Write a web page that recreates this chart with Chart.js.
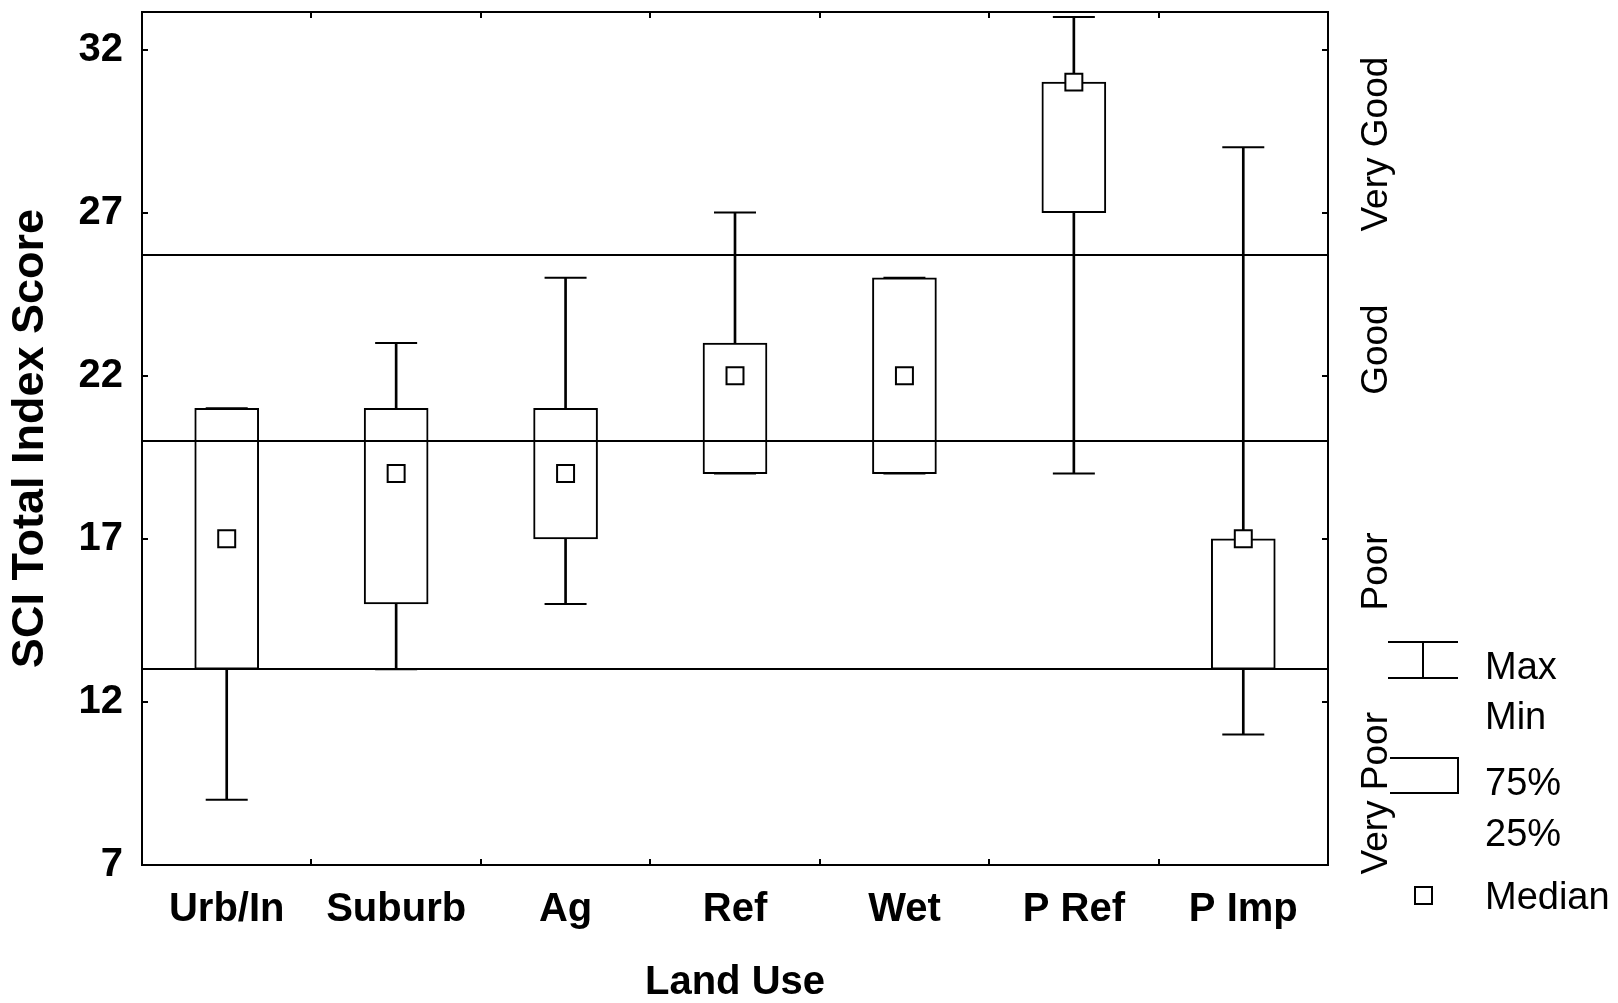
<!DOCTYPE html>
<html>
<head>
<meta charset="utf-8">
<script src="https://cdn.jsdelivr.net/npm/chart.js@4.4.1/dist/chart.umd.min.js"></script>
<style>
  html, body { margin: 0; padding: 0; background: #fff; }
</style>
</head>
<body>
<canvas id="sciChart" width="1618" height="1003"></canvas>
<script>
// land use groups along the x axis
const landUses = ["Urb/In", "Suburb", "Ag", "Ref", "Wet", "P Ref", "P Imp"];

// box plot stats per group
const maxVals    = [21, 23, 25, 27, 25, 33, 29];
const q75Vals    = [21, 21, 21, 23, 25, 31, 17];
const medianVals = [17, 19, 19, 22, 22, 31, 17];
const q25Vals    = [13, 15, 17, 19, 19, 27, 13];
const minVals    = [9, 13, 15, 19, 19, 19, 11];

// y axis
const yTicks = [7, 12, 17, 22, 27, 32];
const yMin = 7;
const yMax = 33.15;

// condition class breaks + names shown on the right
const classBreaks = [25.7, 20, 13];
const classNames = ["Very Good", "Good", "Poor", "Very Poor"];
const classCenters = [29.1, 22.8, 16.0, 9.2];

// legend text
const legendLabels = ["Max", "Min", "75%", "25%", "Median"];

const fontFam = '"Liberation Sans", Arial, Helvetica, sans-serif';

const boxRanges = landUses.map((_, i) => [q25Vals[i], q75Vals[i]]);
const whiskerRanges = landUses.map((_, i) => [minVals[i], maxVals[i]]);

// frame, inside ticks, class lines, right labels and legend
const decorations = {
    id: "decorations",
    afterDatasetsDraw(chart) {
        const { ctx, chartArea: a } = chart;
        const xs = chart.scales.x;
        const ys = chart.scales.y;
        ctx.save();
        ctx.strokeStyle = "#000";
        ctx.lineWidth = 2;

        // class break lines
        classBreaks.forEach(v => {
            const y = Math.round(ys.getPixelForValue(v));
            ctx.beginPath();
            ctx.moveTo(a.left, y);
            ctx.lineTo(a.right, y);
            ctx.stroke();
        });

        // frame
        ctx.strokeRect(a.left, a.top, a.right - a.left, a.bottom - a.top);

        // y ticks, pointing inward on both sides
        yTicks.forEach(v => {
            const y = Math.round(ys.getPixelForValue(v));
            ctx.beginPath();
            ctx.moveTo(a.left, y);
            ctx.lineTo(a.left + 6, y);
            ctx.moveTo(a.right, y);
            ctx.lineTo(a.right - 6, y);
            ctx.stroke();
        });

        // x ticks between categories
        for (let i = 1; i < landUses.length; i++) {
            const x = Math.round((xs.getPixelForValue(i - 1) + xs.getPixelForValue(i)) / 2);
            ctx.beginPath();
            ctx.moveTo(x, a.bottom);
            ctx.lineTo(x, a.bottom - 6);
            ctx.moveTo(x, a.top);
            ctx.lineTo(x, a.top + 6);
            ctx.stroke();
        }
        ctx.restore();
    },
    afterDraw(chart) {
        const { ctx, chartArea: a } = chart;
        const ys = chart.scales.y;
        ctx.save();
        ctx.fillStyle = "#000";
        ctx.strokeStyle = "#000";
        ctx.lineWidth = 2;

        // class names, rotated
        ctx.font = "37px " + fontFam;
        ctx.textAlign = "center";
        ctx.textBaseline = "alphabetic";
        classNames.forEach((name, i) => {
            ctx.save();
            ctx.translate(a.right + 59, ys.getPixelForValue(classCenters[i]));
            ctx.rotate(-Math.PI / 2);
            ctx.fillText(name, 0, 0);
            ctx.restore();
        });

        // legend symbols
        const sx = a.right + 60;
        ctx.beginPath();
        ctx.moveTo(sx, 642); ctx.lineTo(sx + 70, 642);
        ctx.moveTo(sx, 678); ctx.lineTo(sx + 70, 678);
        ctx.moveTo(sx + 35, 642); ctx.lineTo(sx + 35, 678);
        ctx.moveTo(sx + 2, 758); ctx.lineTo(sx + 70, 758);
        ctx.lineTo(sx + 70, 793); ctx.lineTo(sx + 2, 793);
        ctx.stroke();
        ctx.strokeRect(sx + 27, 887, 17, 17);

        // legend text
        ctx.font = "38px " + fontFam;
        ctx.textAlign = "left";
        const baselines = [679, 729, 795, 846, 909];
        legendLabels.forEach((t, i) => ctx.fillText(t, a.right + 157, baselines[i]));
        ctx.restore();
    }
};

const ctx = document.getElementById("sciChart").getContext("2d");

new Chart(ctx, {
    type: "bar",
    data: {
        labels: landUses,
        datasets: [
            {
                label: "Whisker",
                data: whiskerRanges,
                backgroundColor: "#000",
                borderWidth: 0,
                barThickness: 2,
                grouped: false,
                order: 3
            },
            {
                label: "25%-75%",
                data: boxRanges,
                backgroundColor: "#fff",
                borderColor: "#000",
                borderWidth: 2,
                borderSkipped: false,
                barThickness: 64,
                grouped: false,
                order: 2
            },
            {
                type: "line",
                label: "Max",
                data: maxVals,
                showLine: false,
                pointStyle: "line",
                pointRadius: 21,
                pointBorderWidth: 2,
                pointBorderColor: "#000",
                order: 1
            },
            {
                type: "line",
                label: "Min",
                data: minVals,
                showLine: false,
                pointStyle: "line",
                pointRadius: 21,
                pointBorderWidth: 2,
                pointBorderColor: "#000",
                order: 1
            },
            {
                type: "line",
                label: "Median",
                data: medianVals,
                showLine: false,
                pointStyle: "rect",
                pointRadius: 12,
                pointBorderWidth: 2,
                pointBorderColor: "#000",
                pointBackgroundColor: "#fff",
                order: 0
            }
        ]
    },
    options: {
        responsive: false,
        animation: false,
        layout: {
            autoPadding: false,
            padding: { top: 12, right: 290, left: 0, bottom: 0 }
        },
        plugins: {
            legend: { display: false },
            tooltip: { enabled: false }
        },
        scales: {
            x: {
                offset: true,
                grid: { display: false, drawTicks: false },
                border: { display: false },
                ticks: {
                    color: "#000",
                    font: { family: fontFam, weight: "bold", size: 40 },
                    padding: 21,
                    maxRotation: 0,
                    autoSkip: false
                },
                title: {
                    display: true,
                    text: "Land Use",
                    color: "#000",
                    font: { family: fontFam, weight: "bold", size: 40, lineHeight: 1 },
                    padding: { top: 0, bottom: 0 }
                },
                afterFit: s => {
                    s.height = 138;
                    s.paddingLeft = 0;
                    s.paddingRight = 0;
                }
            },
            y: {
                min: yMin,
                max: yMax,
                afterBuildTicks: s => { s.ticks = yTicks.map(v => ({ value: v })); },
                grid: { display: false, drawTicks: false },
                border: { display: false },
                ticks: {
                    color: "#000",
                    font: { family: fontFam, weight: "bold", size: 40 },
                    padding: 19
                },
                title: {
                    display: true,
                    text: "SCI Total Index Score",
                    color: "#000",
                    font: { family: fontFam, weight: "bold", size: 45, lineHeight: 1 },
                    padding: { top: 8, bottom: 0 }
                },
                afterFit: s => {
                    s.width = 142;
                    s.paddingTop = 0;
                    s.paddingBottom = 0;
                }
            }
        }
    },
    plugins: [decorations]
});
</script>
</body>
</html>
